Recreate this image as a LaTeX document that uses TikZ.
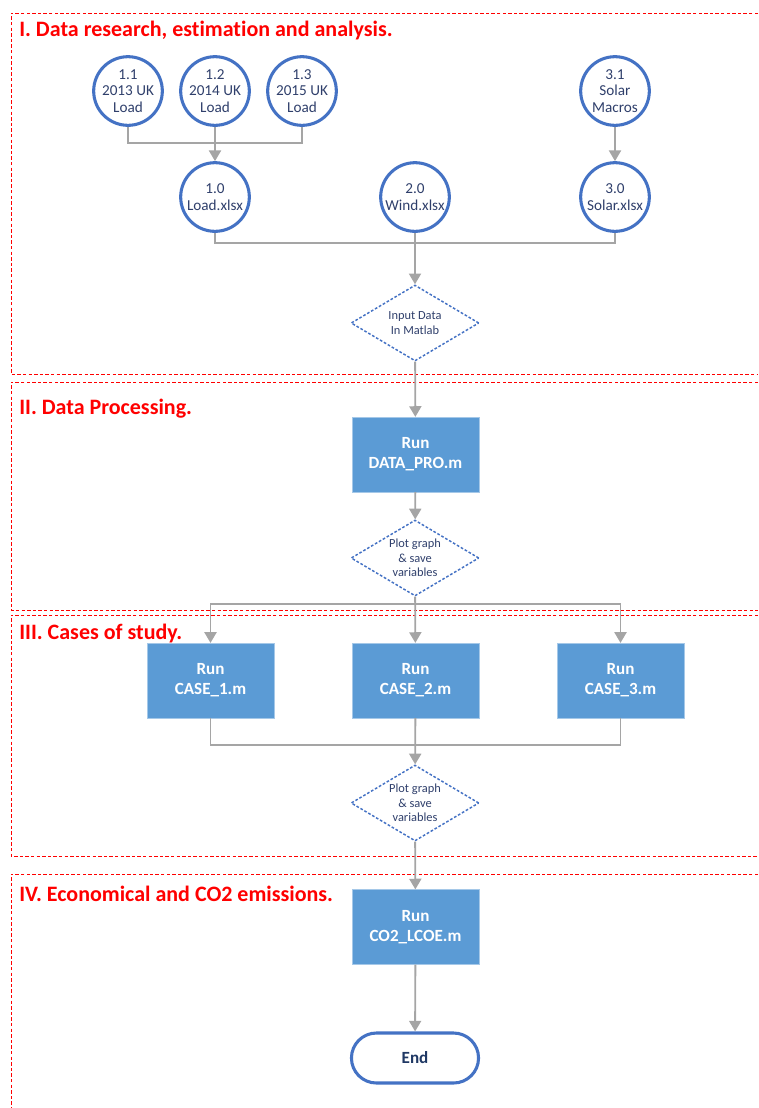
\documentclass[tikz,border=0pt]{standalone}
\usepackage{fontspec}
\setmainfont{Carlito}[Ligatures=NoCommon]
\usetikzlibrary{shapes.geometric, shapes.misc, arrows.meta, positioning}
\definecolor{framered}{HTML}{FF0000}
\definecolor{flowgray}{HTML}{A5A5A5}
\definecolor{ringblue}{HTML}{4472C4}
\definecolor{boxblue}{HTML}{5B9BD5}
\definecolor{textnavy}{HTML}{2F3F6B}
\definecolor{endnavy}{HTML}{1F3864}
\tikzstyle{sectionframe} = [draw=framered, line width=0.7pt, dash pattern=on 2.6pt off 1.6pt]
\tikzstyle{sectitle} = [anchor=base west, text=framered, inner sep=0pt, font=\fontsize{16.5}{18}\selectfont\bfseries]
\tikzstyle{datafile} = [circle, minimum size=51.5pt, inner sep=0pt, draw=ringblue, line width=2.3pt, text=textnavy, align=center, font=\fontsize{11.4}{12.6}\selectfont]
\tikzstyle{decision} = [diamond, minimum width=96pt, minimum height=57pt, aspect=1.7, inner sep=0pt, draw=ringblue, line width=1.1pt, dash pattern=on 2pt off 1.4pt, text=textnavy, align=center, font=\fontsize{9.3}{11}\selectfont]
\tikzstyle{process} = [rectangle, minimum width=95pt, minimum height=56pt, fill=boxblue, draw=boxblue!55!white, line width=0.4pt, text=white, align=center, font=\fontsize{12.8}{15}\selectfont\bfseries]
\tikzstyle{terminal} = [rounded rectangle, minimum width=102pt, minimum height=37.5pt, draw=ringblue, line width=2.3pt, fill=white, text=endnavy, font=\fontsize{12.8}{14}\selectfont\bfseries]
\tikzstyle{link} = [draw=flowgray, line width=1.4pt]
\tikzstyle{arrow} = [link, -{Triangle[length=8pt, width=9pt]}]

\begin{document}
\begin{tikzpicture}[x=0.75pt, y=-0.75pt]
\useasboundingbox (0,0) rectangle (758,1108);

% section frames
\draw [sectionframe] (758,13) -| (11,374) -- (758,374);
\draw [sectionframe] (758,382) -| (11,610) -- (758,610);
\draw [sectionframe] (758,615) -| (11,856) -- (758,856);
\draw [sectionframe] (758,874) -| (11,1108);
\node (t1) [sectitle] at (19,36) {I. Data research, estimation and analysis.};
\node (t2) [sectitle] at (19,414) {II. Data Processing.};
\node (t3) [sectitle] at (19,639) {III. Cases of study.};
\node (t4) [sectitle] at (19,901) {IV. Economical and CO2 emissions.};

% I. data sources
\node (c11) [datafile] at (128,91) {1.1\\2013 UK\\Load};
\node (c12) [datafile] at (215,91) {1.2\\2014 UK\\Load};
\node (c13) [datafile] at (302,91) {1.3\\2015 UK\\Load};
\node (c31) [datafile] at (615,91) {3.1\\Solar\\Macros};
\node (c10) [datafile] at (215,197) {1.0\\Load.xlsx};
\node (c20) [datafile] at (415,197) {2.0\\Wind.xlsx};
\node (c30) [datafile] at (615,197) {3.0\\Solar.xlsx};
\node (d1) [decision] at (415,323) {Input Data\\In Matlab};
\coordinate (j1) at (215,143);
\coordinate (j2) at (415,243);
\draw [link] (c11.south) |- (j1) -| (c13.south);
\draw [arrow] (c12) -- (c10);
\draw [arrow] (c31) -- (c30);
\draw [link] (c10.south) |- (j2) -| (c30.south);
\draw [arrow] (c20) -- (d1);

% II. processing
\node (p1) [process] at (415.5,454.5) {Run\\DATA\_PRO.m};
\node (d2) [decision] at (415,558) {Plot graph\\\& save\\variables};
\draw [arrow] (d1) -- (p1);
\draw [arrow] (p1) -- (d2);

% III. cases
\node (k1) [process] at (210.5,680.5) {Run\\CASE\_1.m};
\node (k2) [process] at (415.5,680.5) {Run\\CASE\_2.m};
\node (k3) [process] at (620.5,680.5) {Run\\CASE\_3.m};
\node (d3) [decision] at (415,803) {Plot graph\\\& save\\variables};
\coordinate (j3) at (415,604);
\coordinate (j4) at (415,745);
\draw [arrow] (j3) -| (k1.north);
\draw [arrow] (j3) -| (k3.north);
\draw [arrow] (d2) -- (k2);
\draw [link] (k1.south) |- (j4) -| (k3.south);
\draw [arrow] (k2) -- (d3);

% IV. economics
\node (p4) [process] at (415.5,927) {Run\\CO2\_LCOE.m};
\node (e1) [terminal] at (415,1058) {End};
\draw [arrow] (d3) -- (p4);
\draw [arrow] (p4) -- (e1);
\end{tikzpicture}
\end{document}
